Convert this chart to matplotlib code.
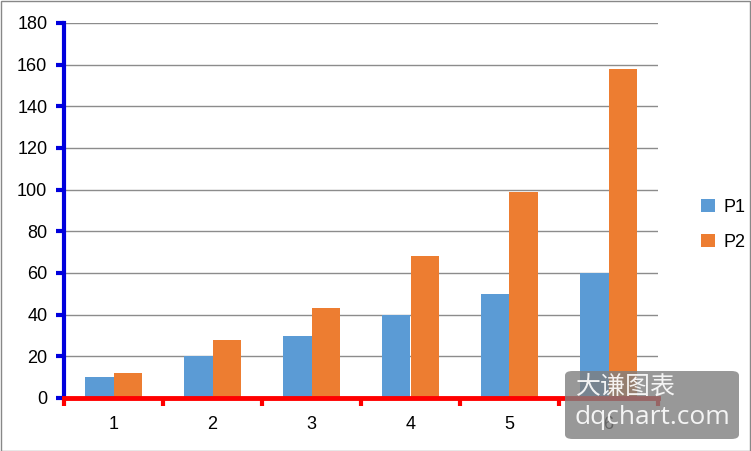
import matplotlib
matplotlib.use("Agg")
import matplotlib.pyplot as plt
from matplotlib.patches import FancyBboxPatch
import numpy as np

plt.rcParams['font.family'] = ['Liberation Sans', 'Noto Sans CJK SC', 'DejaVu Sans']

categories = ['1', '2', '3', '4', '5', '6']
p1 = [10, 20, 30, 40, 50, 60]
p2 = [12, 28, 43, 68, 99, 158]
yticks = [0, 20, 40, 60, 80, 100, 120, 140, 160, 180]

fig = plt.figure(figsize=(7.51, 4.51), dpi=100)
ax = fig.add_axes([64/751, 1-398/451, (658-64)/751, (398-23)/451])

x = np.arange(len(categories))
w = 0.283
ax.bar(x - w/2, p1, w, color='#5B9BD5', label='P1', zorder=2)
ax.bar(x + w/2, p2, w, color='#ED7D31', label='P2', zorder=2)

ax.set_xlim(-0.5, len(categories) - 0.5)
ax.set_ylim(0, 180)
ax.set_yticks(yticks)
ax.set_yticklabels([str(v) for v in yticks], fontsize=13)
ax.yaxis.grid(True, color='#8C8C8C', linewidth=1, zorder=0)
ax.set_axisbelow(True)

ax.set_xticks(np.arange(-0.5, len(categories), 1))
ax.set_xticklabels([])
ax.set_xticks(x, minor=True)
ax.set_xticklabels(categories, minor=True, fontsize=13)
ax.tick_params(axis='x', which='major', direction='out', length=6, width=3, color='#FF0000')
ax.tick_params(axis='x', which='minor', length=0, pad=13)
ax.tick_params(axis='y', direction='out', length=6, width=3, color='#0000DD', pad=6)

for s in ['top', 'right']:
    ax.spines[s].set_visible(False)
ax.spines['left'].set_color('#0000DD')
ax.spines['left'].set_linewidth(3)
ax.spines['bottom'].set_color('#FF0000')
ax.spines['bottom'].set_linewidth(3.5)
ax.spines['bottom'].set_zorder(3)

fig.legend(loc='center left', bbox_to_anchor=(685/751, 1-225/451), frameon=False,
           fontsize=13, handlelength=0.75, handleheight=0.75, handletextpad=0.5,
           labelspacing=1.0)

# figure border
fig.add_artist(plt.Rectangle((0.001, 0.001), 0.998, 0.997, transform=fig.transFigure,
                             fill=False, edgecolor='#888888', linewidth=1))

# watermark
box = FancyBboxPatch((565/751, 1-439/451), (739-565)/751, (439-371)/451,
                     boxstyle='round,pad=0,rounding_size=0.01', transform=fig.transFigure,
                     facecolor='#7F7F7F', alpha=0.8, edgecolor='none', zorder=10)
fig.add_artist(box)
fig.text(576/751, 1-387/451, '大谦图表', color='white', fontsize=18,
         family=['Noto Sans CJK SC'], va='center', ha='left', zorder=11, alpha=0.9)
fig.text(575/751, 1-418/451, 'dqchart.com', color='white', fontsize=19,
         va='center', ha='left', zorder=11, alpha=0.9, family=['Open Sans', 'DejaVu Sans'])

fig.savefig('out.png', dpi=100)
